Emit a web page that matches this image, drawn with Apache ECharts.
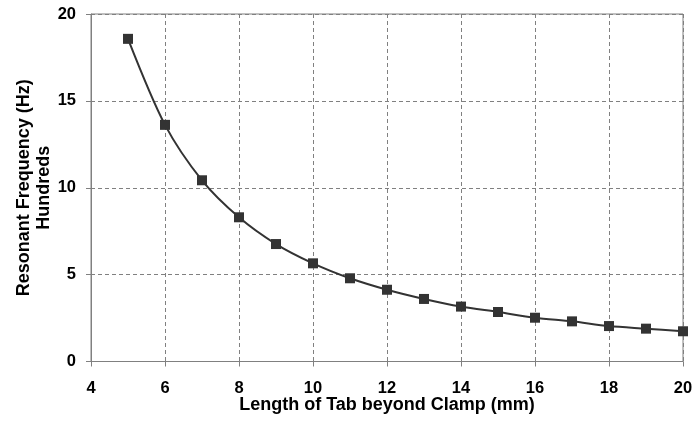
<!DOCTYPE html>
<html>
<head>
<meta charset="utf-8">
<script src="https://cdn.jsdelivr.net/npm/echarts@6/dist/echarts.min.js"></script>
<style>
html,body{margin:0;padding:0;background:#fff;}
#chart{width:698px;height:423px;}
</style>
</head>
<body>
<div id="chart"></div>
<script>
var tabLength = [5, 6, 7, 8, 9, 10, 11, 12, 13, 14, 15, 16, 17, 18, 19, 20];
var frequencyHundreds = [18.57, 13.62, 10.43, 8.30, 6.76, 5.65, 4.79, 4.13, 3.60, 3.16, 2.85, 2.52, 2.31, 2.04, 1.89, 1.74];
var xTitle = 'Length of Tab beyond Clamp (mm)';
var yTitle = 'Resonant Frequency (Hz)\nHundreds';

var points = tabLength.map(function (x, i) { return [x, frequencyHundreds[i]]; });
var font = 'Liberation Sans, Arial, sans-serif';

var chart = echarts.init(document.getElementById('chart'), null, {renderer: 'canvas'});
chart.setOption({
  backgroundColor: '#fff',
  animation: false,
  grid: {left: 91, right: 15, top: 14, bottom: 61.5, show: true, borderColor: '#808080', borderWidth: 1, containLabel: false, outerBoundsMode: 'none'},
  xAxis: {
    type: 'value', min: 4, max: 20, interval: 2,
    name: xTitle, nameLocation: 'middle', nameGap: 35, nameMoveOverlap: false,
    nameTextStyle: {fontFamily: font, fontWeight: 'bold', fontSize: 18, color: '#000'},
    axisLine: {show: true, lineStyle: {color: '#808080', width: 1}},
    axisTick: {show: true, inside: false, length: 5, lineStyle: {color: '#808080'}},
    axisLabel: {fontFamily: font, fontWeight: 'bold', fontSize: 16.5, color: '#000', margin: 18},
    splitLine: {show: true, lineStyle: {color: '#808080', type: [4, 3], width: 1}}
  },
  yAxis: {
    type: 'value', min: 0, max: 20, interval: 5,
    name: yTitle, nameLocation: 'middle', nameGap: 37, nameRotate: 90, nameMoveOverlap: false,
    nameTextStyle: {fontFamily: font, fontWeight: 'bold', fontSize: 18, color: '#000', lineHeight: 20, align: 'center'},
    axisLine: {show: true, lineStyle: {color: '#808080', width: 1}},
    axisTick: {show: true, inside: false, length: 5, lineStyle: {color: '#808080'}},
    axisLabel: {fontFamily: font, fontWeight: 'bold', fontSize: 16.5, color: '#000', margin: 15},
    splitLine: {show: true, lineStyle: {color: '#808080', type: [4, 3], width: 1}}
  },
  series: [{
    type: 'line',
    data: points,
    smooth: 0.3,
    symbol: 'rect',
    symbolSize: 10,
    lineStyle: {color: '#333333', width: 2},
    itemStyle: {color: '#333333'}
  }]
});
</script>
</body>
</html>
